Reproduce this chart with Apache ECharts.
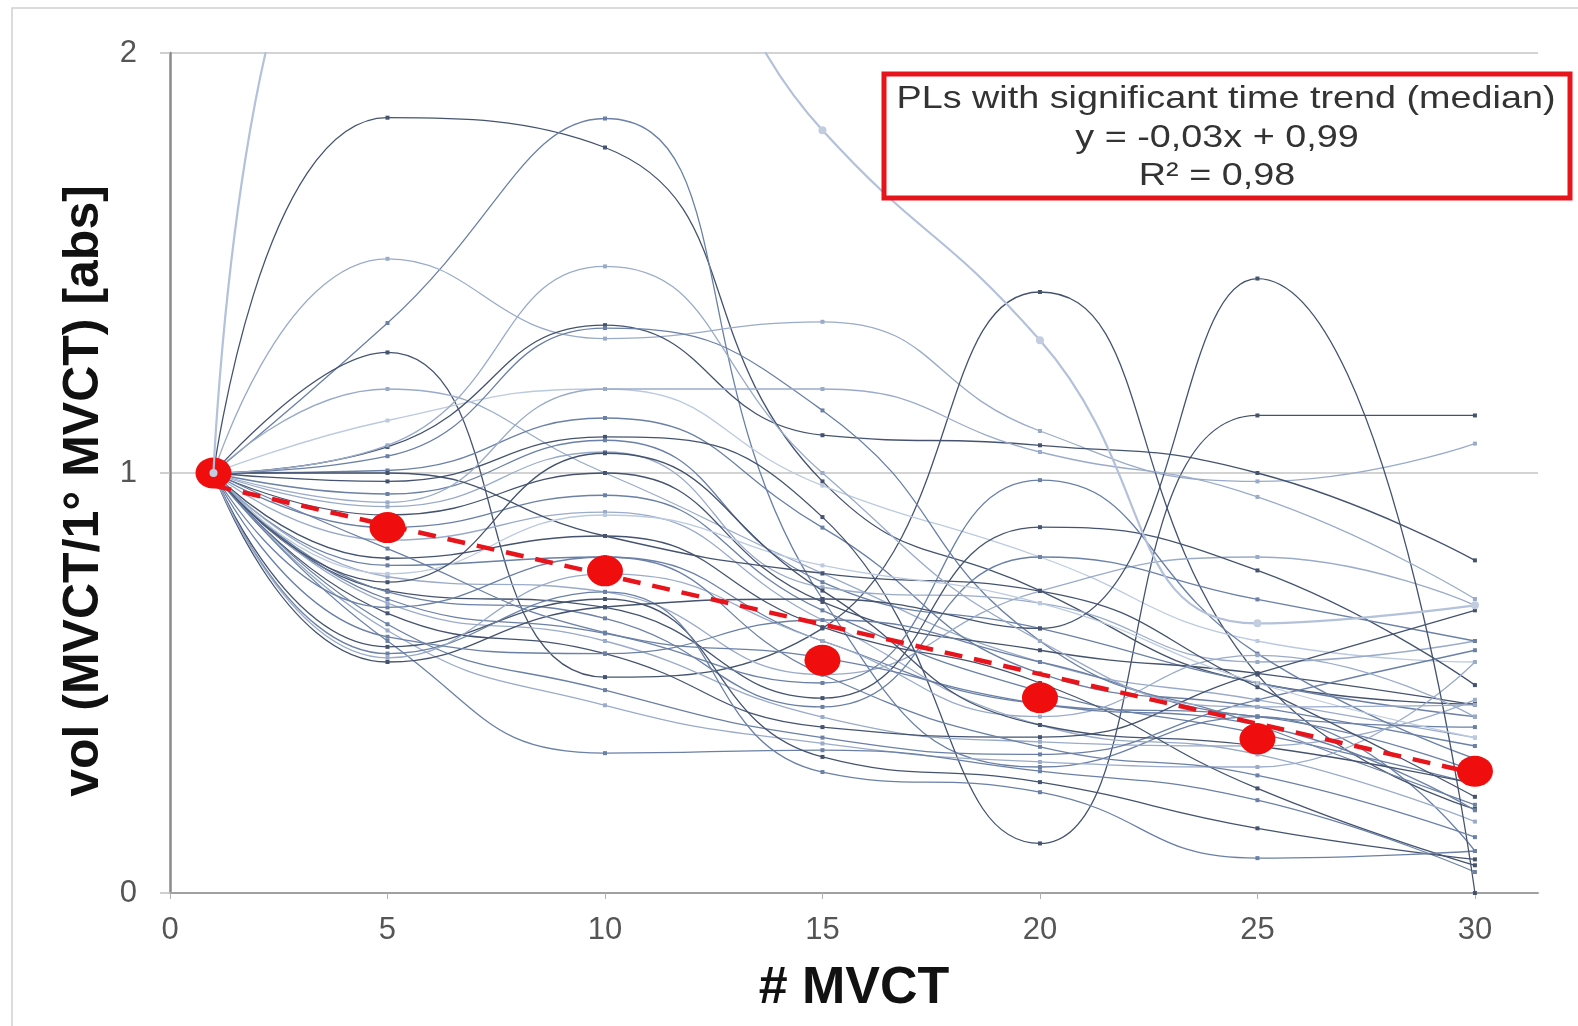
<!DOCTYPE html>
<html lang="en">
<head>
	<meta charset="UTF-8">
	<title>vol MVCT</title>
	<style>
		html, body { margin: 0; padding: 0; background: #fff; }
	</style>
</head>
<body>
	<div id="chart" style="width:1578px;height:1026px;"></div>
</body>
<script type="text/javascript" src="https://cdn.jsdelivr.net/npm/echarts@6/dist/echarts.min.js"></script>
<script type="text/javascript">
	// MVCT number of each measurement
	const mvct = [1, 5, 10, 15, 20, 25, 30];

	// single outlier patient (goes off the top of the chart)
	const outlier = [1, 2.5, 2.45, 1.816, 1.316, 0.642, 0.685];

	// volume relative to first MVCT, one row per patient
	const patients = [
		[1, 1.846, 1.775, 0.98, 0.72, 0.50, 0.45],
		[1, 1.357, 1.844, 0.70, 0.30, 0.42, 0.10],
		[1, 1.51, 1.32, 1.36, 1.10, 0.98, 1.07],
		[1, 1.287, 0.514, 0.63, 1.431, 0.52, 0.20],
		[1, 1.20, 1.0, 0.761, 0.55, 0.46, 0.37],
		[1, 1.125, 1.20, 0.97, 0.80, 0.60, 0.55],
		[1, 1.062, 1.352, 1.09, 1.066, 1.0, 0.792],
		[1, 1.04, 1.345, 1.149, 0.60, 0.40, 0.21],
		[1, 1.006, 1.131, 0.87, 0.523, 0.443, 0.35],
		[1, 0.98, 1.086, 0.895, 0.118, 1.137, 1.137],
		[1, 0.95, 1.078, 0.74, 0.63, 0.50, 0.42],
		[1, 0.92, 1.05, 0.728, 0.69, 0.55, 0.60],
		[1, 0.90, 1.0, 0.693, 0.578, 0.523, 0.448],
		[1, 0.87, 0.947, 0.673, 0.48, 0.38, 0.26],
		[1, 0.84, 0.907, 0.65, 0.40, 0.33, 0.17],
		[1, 0.797, 0.85, 0.633, 0.50, 0.249, 0.066],
		[1, 0.78, 0.80, 0.60, 0.45, 0.42, 0.29],
		[1, 0.753, 0.717, 0.52, 0.719, 0.80, 0.685],
		[1, 0.72, 0.68, 0.464, 0.871, 0.768, 0.495],
		[1, 0.717, 0.654, 0.443, 0.80, 0.699, 0.60],
		[1, 0.70, 0.618, 0.50, 0.983, 0.57, 0.32],
		[1, 0.69, 0.60, 0.419, 0.36, 0.35, 0.46],
		[1, 0.666, 0.57, 0.395, 0.371, 0.523, 0.673],
		[1, 0.64, 0.483, 0.37, 0.33, 0.46, 0.578],
		[1, 0.625, 0.447, 0.356, 0.312, 0.30, 0.55],
		[1, 0.60, 0.333, 0.34, 0.29, 0.221, 0.05],
		[1, 0.586, 0.70, 0.324, 0.264, 0.154, 0.08],
		[1, 0.57, 0.717, 0.288, 0.24, 0.083, 0.10],
		[1, 0.55, 0.681, 0.70, 0.63, 1.463, 0.0],
		[1, 0.56, 0.76, 0.60, 0.42, 0.566, 0.419],
		[1, 0.61, 0.57, 0.65, 0.55, 0.42, 0.395],
		[1, 1.0, 0.85, 0.761, 0.719, 0.49, 0.229],
		[1, 0.93, 1.20, 1.20, 1.05, 0.943, 0.70],
		[1, 0.82, 0.62, 0.56, 0.45, 0.40, 0.197],
		[1, 0.76, 0.90, 0.78, 0.69, 0.50, 0.37],
		[1, 0.68, 0.80, 0.52, 0.348, 0.28, 0.133],
		[1, 0.74, 1.047, 0.72, 0.40, 0.35, 0.26],
		[1, 1.066, 1.492, 1.0, 0.60, 0.443, 0.448]
	];

	// median of the patients with significant time trend
	const medianY = [1.0, 0.87, 0.767, 0.554, 0.465, 0.367, 0.29];

	// dashed trend line end points
	const trendX = [1, 30];
	const trendY = [0.97, 0.285];

	// line shade per patient: d = dark, m = mid, l = light, p = pale
	const shades = ['d', 'm', 'l', 'd', 'l', 'p', 'd', 'm', 'm', 'd', 'm', 'l', 'd', 'm', 'l', 'd', 'm', 'l', 'd',
		'm', 'm', 'l', 'd', 'm', 'l', 'm', 'd', 'm', 'd', 'l', 'm', 'd', 'l', 'm', 'p', 'm', 'd', 'l'];
	const shadeColor = { d: '#45536f', m: '#6a80a6', l: '#9aabc9', p: '#bccae0' };

	let myChart = echarts.init(document.getElementById('chart'));

	let series = [];
	patients.forEach(function (row, i) {
		let c = shadeColor[shades[i]];
		series.push({
			type: 'line',
			data: row.map(function (v, j) { return [mvct[j], v]; }),
			smooth: 0.5,
			symbol: 'rect',
			symbolSize: 4,
			lineStyle: { color: c, width: 1.3 },
			itemStyle: { color: c },
			z: 2,
			silent: true
		});
	});

	// red dashed trend
	series.push({
		type: 'line',
		data: trendX.map(function (x, j) { return [x, trendY[j]]; }),
		symbol: 'none',
		lineStyle: { color: '#e8141b', width: 4.5, type: [18, 12] },
		z: 4,
		silent: true
	});

	// red median points
	series.push({
		type: 'scatter',
		data: mvct.map(function (x, j) { return [x, medianY[j]]; }),
		symbol: 'circle',
		symbolSize: [36, 31],
		itemStyle: { color: '#f00d0d', opacity: 1 },
		z: 5,
		silent: true
	});

	// outlier patient, drawn last
	series.push({
		type: 'line',
		data: outlier.map(function (v, j) { return [mvct[j], v]; }),
		smooth: 0.5,
		symbol: 'circle',
		symbolSize: 8,
		lineStyle: { color: '#b4c1da', width: 2.2 },
		itemStyle: { color: '#c3cde0' },
		z: 6,
		silent: true
	});

	let option = {
		animation: false,
		backgroundColor: '#fff',
		grid: { left: 170, right: 40, top: 53, bottom: 133 },
		xAxis: {
			type: 'value',
			min: 0,
			max: 31.45,
			interval: 5,
			name: '# MVCT',
			nameLocation: 'middle',
			nameGap: 70,
			nameTextStyle: { fontSize: 52, fontWeight: 'bold', color: '#111', fontFamily: 'Arial, Liberation Sans' },
			axisLine: { lineStyle: { color: '#a0a0a0', width: 2 } },
			axisTick: { show: true, length: 6, lineStyle: { color: '#b0b0b0' } },
			axisLabel: { fontSize: 31, color: '#555', margin: 22, showMaxLabel: false, fontFamily: 'Arial, Liberation Sans' },
			splitLine: { show: false }
		},
		yAxis: {
			type: 'value',
			min: 0,
			max: 2,
			interval: 1,
			name: 'vol (MVCT/1° MVCT) [abs]',
			nameLocation: 'middle',
			nameRotate: 90,
			nameGap: 44,
			nameTextStyle: { fontSize: 50, fontWeight: 'bold', color: '#111', fontFamily: 'Arial, Liberation Sans', padding: [0, 36, 0, 0] },
			axisLine: { show: true, lineStyle: { color: '#8a8a8a', width: 2.5 } },
			axisTick: { show: true, length: 10, lineStyle: { color: '#c0c0c0', width: 1.5 } },
			axisLabel: { fontSize: 31, color: '#555', margin: 33, fontFamily: 'Arial, Liberation Sans' },
			splitLine: { show: true, lineStyle: { color: '#c4c4c4', width: 1.5 } }
		},
		graphic: [
			{
				type: 'rect',
				shape: { x: 12, y: 8, width: 1600, height: 1100 },
				style: { fill: 'none', stroke: '#cfcfcf', lineWidth: 1.5 },
				silent: true,
				z: 0
			},
			{
				type: 'rect',
				shape: { x: 884, y: 74, width: 686, height: 124 },
				style: { fill: '#fff', stroke: '#e8141b', lineWidth: 5 },
				z: 100
			},
			{
				type: 'text',
				x: 1226, y: 99, scaleX: 1.18,
				style: { text: 'PLs with significant time trend (median)', fill: '#333', font: '32px Arial, Liberation Sans', align: 'center', verticalAlign: 'middle' },
				z: 101
			},
			{
				type: 'text',
				x: 1217, y: 138, scaleX: 1.18,
				style: { text: 'y = -0,03x + 0,99', fill: '#333', font: '32px Arial, Liberation Sans', align: 'center', verticalAlign: 'middle' },
				z: 101
			},
			{
				type: 'text',
				x: 1217, y: 176, scaleX: 1.18,
				style: { text: 'R² = 0,98', fill: '#333', font: '32px Arial, Liberation Sans', align: 'center', verticalAlign: 'middle' },
				z: 101
			}
		],
		series: series
	};

	myChart.setOption(option);
</script>
</html>
